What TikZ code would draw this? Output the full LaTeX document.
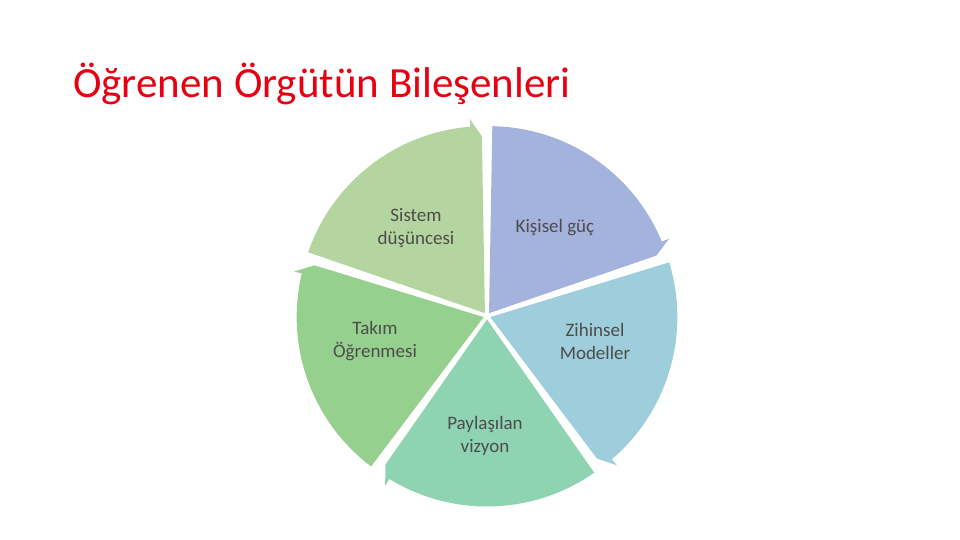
\documentclass[tikz,border=0pt]{standalone}
\usepackage{fontspec}
\setmainfont{Carlito}
\usetikzlibrary{calc}
\definecolor{titlered}{RGB}{230,0,18}
\definecolor{segA}{RGB}{164,178,222}
\definecolor{segB}{RGB}{158,206,220}
\definecolor{segC}{RGB}{143,212,178}
\definecolor{segD}{RGB}{150,208,142}
\definecolor{segE}{RGB}{180,213,160}
\tikzset{seglabel/.style={text=black!70,font=\fontsize{19}{23}\selectfont,align=center}}
\begin{document}
\begin{tikzpicture}[x=1pt,y=1pt]
\useasboundingbox (0,0) rectangle (960,540);
\fill[white] (0,0) rectangle (960,540);
\node[anchor=base west,text=titlered,font=\fontsize{43}{45}\selectfont,inner sep=0] (title) at (73,442) {Öğrenen Örgütün Bileşenleri};
\coordinate (c) at (487,224);
% five sectors with a small tab at the clockwise end
\foreach \i/\col in {0/segA,1/segB,2/segC,3/segD,4/segE}{
  \pgfmathsetmacro{\sa}{90-72*\i}
  \pgfmathsetmacro{\ea}{\sa-72}
  \pgfmathsetmacro{\ma}{\sa-36}
  \fill[\col] ($(c)+(\ma:3.5)$) coordinate (o) -- ($(o)+(\sa-1:187)$)
    arc[start angle=\sa-1,end angle=\ea+4.5,radius=187]
    -- ($(o)+(\ea+4.5:195)$) -- ($(o)+(\ea+1:177)$) -- cycle;
}
\node[seglabel] (sys) at (416,312) {Sistem\\düşüncesi};
\node[seglabel] (kis) at (555,312) {Kişisel güç};
\node[seglabel] (zih) at (595,199) {Zihinsel\\Modeller};
\node[seglabel] (pay) at (485,104) {Paylaşılan\\vizyon};
\node[seglabel] (tak) at (375,199) {Takım\\Öğrenmesi};
\end{tikzpicture}
\end{document}
